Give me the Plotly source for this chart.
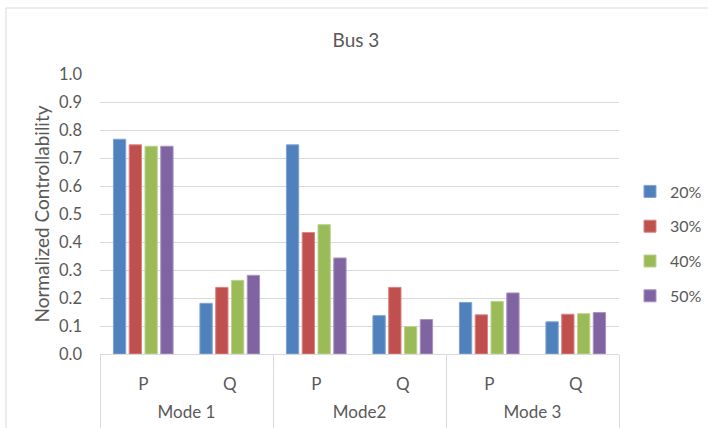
import plotly.graph_objects as go

modes = ["Mode 1", "Mode 1", "Mode2", "Mode2", "Mode 3", "Mode 3"]
pq = ["P", "Q", "P", "Q", "P", "Q"]
series_names = ["20%", "30%", "40%", "50%"]
v20 = [0.767, 0.181, 0.747, 0.137, 0.184, 0.115]
v30 = [0.747, 0.238, 0.434, 0.238, 0.140, 0.142]
v40 = [0.742, 0.263, 0.462, 0.098, 0.188, 0.144]
v50 = [0.742, 0.281, 0.343, 0.123, 0.218, 0.148]
colors = ["#4F81BD", "#C0504D", "#9BBB59", "#8064A2"]
edges = ["#7FA3D3", "#D98583", "#BCD48E", "#A892C2"]
y_ticks = [0.0, 0.1, 0.2, 0.3, 0.4, 0.5, 0.6, 0.7, 0.8, 0.9, 1.0]

font = "Lato, Calibri, Carlito, sans-serif"
grey = "#595959"
gridc = "#D9D9D9"

# category index helpers (from the lists above)
n = len(pq)
xr = [-0.5, n - 0.5]
group_names = []
group_idx = {}
for i, m in enumerate(modes):
    if m not in group_idx:
        group_idx[m] = []
        group_names.append(m)
    group_idx[m].append(i)
group_centers = [sum(group_idx[g]) / len(group_idx[g]) for g in group_names]
group_edges = [min(group_idx[g]) - 0.5 for g in group_names] + [max(group_idx[group_names[-1]]) + 0.5]

fig = go.Figure()
for i, (name, vals) in enumerate(zip(series_names, [v20, v30, v40, v50])):
    fig.add_trace(go.Bar(
        x=[modes, pq], y=vals, name=name,
        marker=dict(color=colors[i], line=dict(color=edges[i], width=1)),
        legendgroup=name,
    ))

# invisible helper traces so that the label/divider axes get drawn
for ax in ["x2", "x3", "x4"]:
    fig.add_trace(go.Scatter(x=xr, y=[0, 0], xaxis=ax, yaxis="y", mode="lines",
                             line=dict(width=0, color="rgba(0,0,0,0)"),
                             showlegend=False, hoverinfo="skip"))

W, H = 708, 428
L, R, T, B = 100, 89, 74, 74
pw, ph = W - L - R, H - T - B

overlay = dict(overlaying="x", anchor="y", side="bottom", type="linear", range=xr,
               showgrid=False, zeroline=False, showline=False, fixedrange=True)

fig.update_layout(
    width=W, height=H,
    margin=dict(l=L, r=R, t=T, b=B, autoexpand=False),
    paper_bgcolor="white", plot_bgcolor="white",
    barmode="group", bargap=0.27, bargroupgap=0.22,
    font=dict(family=font, color=grey, size=16),
    title=dict(text="Bus 3", x=356 / W, xanchor="center", y=1 - 40 / H, yanchor="middle",
               font=dict(size=19, color=grey, family=font)),
    legend=dict(x=1 + 11 / pw, xanchor="left", y=(H - B - 244) / ph, yanchor="middle",
                font=dict(size=16, color=grey, family=font),
                traceorder="grouped", tracegroupgap=11,
                itemwidth=30),
    yaxis=dict(range=[0, 1.0], tickvals=y_ticks, tickformat=".1f",
               showgrid=True, gridcolor=gridc, gridwidth=1,
               zeroline=False, showline=False, ticks="",
               ticklabelstandoff=17,
               title=dict(text="Normalized Controllability", standoff=4,
                          font=dict(size=19, color=grey, family=font)),
               tickfont=dict(size=16.5, color=grey, family=font)),
    xaxis=dict(type="multicategory", range=xr, showline=True, linecolor=gridc,
               showticklabels=False, showdividers=False, ticks=""),
    xaxis2=dict(overlay, tickvals=list(range(n)), ticktext=pq, ticks="",
                ticklabelstandoff=18,
                tickfont=dict(size=17, color=grey, family=font)),
    xaxis3=dict(overlay, tickvals=group_centers, ticktext=group_names, ticks="",
                ticklabelstandoff=46,
                tickfont=dict(size=17, color=grey, family=font)),
    xaxis4=dict(overlay, tickvals=group_edges, showticklabels=False,
                ticks="outside", ticklen=80, tickcolor=gridc, tickwidth=1),
    shapes=[dict(type="rect", xref="paper", yref="paper",
                 x0=(6 - L) / pw, x1=(W + 10 - L) / pw,
                 y0=-(H + 10 - (H - B)) / ph, y1=1 + (T - 8) / ph,
                 line=dict(color=gridc, width=1), fillcolor="rgba(0,0,0,0)", layer="below")],
)

fig.write_html("out.html", config={"displayModeBar": False},
               post_script="document.body.style.margin='0px';document.body.style.overflow='hidden';")
